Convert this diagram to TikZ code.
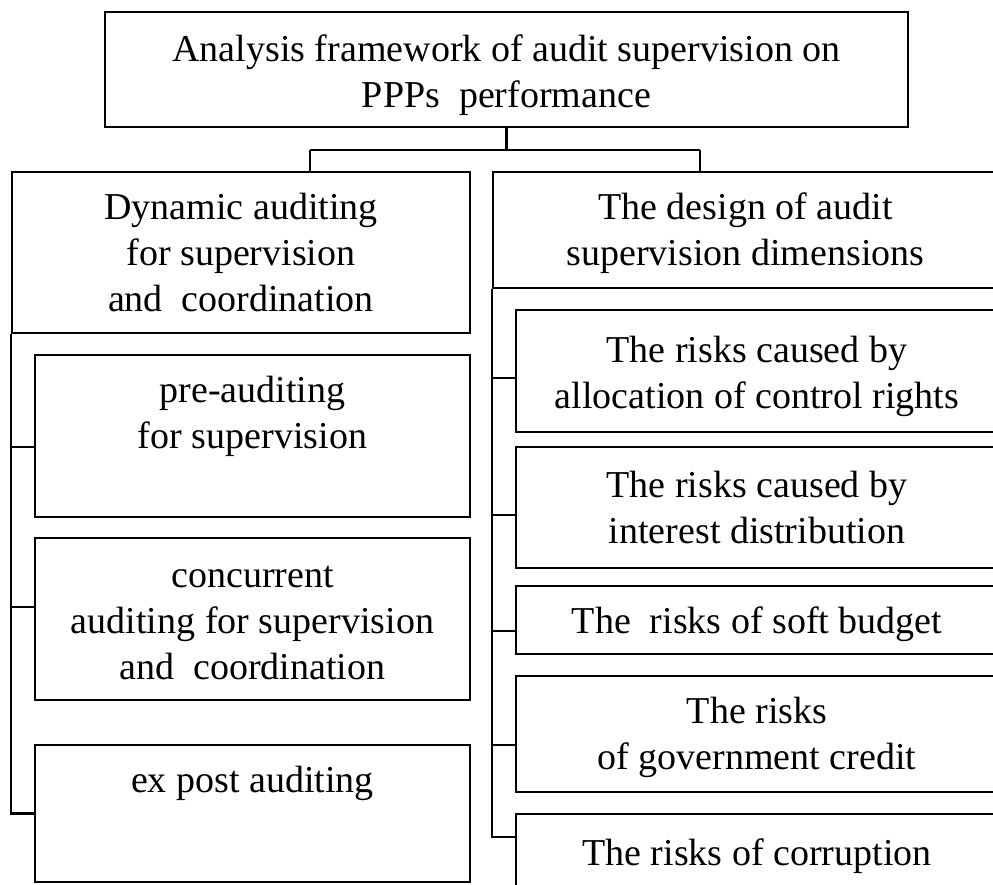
\documentclass[tikz,border=0pt]{standalone}
\usepackage{fontspec}
\setmainfont{Liberation Serif}
\newcommand{\mlines}[1]{\begin{tabular}[t]{@{}c@{}}#1\end{tabular}}
\begin{document}
\begin{tikzpicture}[x=1pt,y=-1pt,
  box/.style={draw=black, line width=2.4pt, rectangle, inner sep=0pt, fill=none},
  txt/.style={anchor=base, inner sep=0pt, font=\fontsize{38}{46}\selectfont},
  conn/.style={draw=black, line width=2.4pt}]
\useasboundingbox (0,0) rectangle (993,885);
\fill[white] (0,0) rectangle (993,885);
% boxes
\node[box, minimum width=803pt, minimum height=115pt] (top) at (506.5,69.5) {};
\node[box, minimum width=458pt, minimum height=161pt] (lh) at (241,252.5) {};
\node[box, minimum width=505pt, minimum height=116pt] (rh) at (745.5,230) {};
\node[box, minimum width=435pt, minimum height=162pt] (pre) at (252.5,436) {};
\node[box, minimum width=435pt, minimum height=162pt] (conc) at (252.5,619) {};
\node[box, minimum width=435pt, minimum height=137pt] (expost) at (252.5,813.5) {};
\node[box, minimum width=482pt, minimum height=122pt] (r1) at (757,371) {};
\node[box, minimum width=482pt, minimum height=121pt] (r2) at (757,507.5) {};
\node[box, minimum width=482pt, minimum height=68pt] (r3) at (757,620) {};
\node[box, minimum width=482pt, minimum height=116pt] (r4) at (757,734) {};
\node[box, minimum width=482pt, minimum height=116pt] (r5) at (757,872) {};
% texts
\node[txt] (ttop) at (506.5,62) {\mlines{Analysis framework of audit supervision on\\PPPs\ \ performance}};
\node[txt] (tlh) at (241,220) {\mlines{Dynamic auditing\\for supervision\\and\ \ coordination}};
\node[txt] (trh) at (745.5,220) {\mlines{The design of audit\\supervision dimensions}};
\node[txt] (tpre) at (252.5,402) {\mlines{pre-auditing\\for supervision}};
\node[txt] (tconc) at (252.5,587) {\mlines{concurrent\\auditing for supervision\\and\ \ coordination}};
\node[txt] (texp) at (252.5,792) {\mlines{ex post auditing}};
\node[txt] (tr1) at (757,362) {\mlines{The risks caused by\\allocation of control rights}};
\node[txt] (tr2) at (757,497) {\mlines{The risks caused by\\interest distribution}};
\node[txt] (tr3) at (757,633) {\mlines{The\ \ risks of soft budget}};
\node[txt] (tr4) at (757,723) {\mlines{The risks\\of government credit}};
\node[txt] (tr5) at (757,865) {\mlines{The risks of corruption}};
% connectors
\coordinate (j) at (top.south |- 0,150);
\draw[conn] (top.south) -- (j);
\draw[conn] (j -| 310,0) -- (j -| 700,0);
\draw[conn] (j -| 310,0) -- (lh.north -| 310,0);
\draw[conn] (j -| 700,0) -- (rh.north -| 700,0);
% left spine
\draw[conn] (lh.south west) |- (expost.west);
\draw[conn] (lh.south west |- 0,447) -- (pre.west |- 0,447);
\draw[conn] (lh.south west |- 0,607) -- (conc.west |- 0,607);
% right spine
\draw[conn] (rh.south west) -- (rh.south west |- 0,837) -- (r5.west |- 0,837);
\draw[conn] (rh.south west |- 0,378) -- (r1.west |- 0,378);
\draw[conn] (rh.south west |- 0,515) -- (r2.west |- 0,515);
\draw[conn] (rh.south west |- 0,631) -- (r3.west |- 0,631);
\draw[conn] (rh.south west |- 0,745) -- (r4.west |- 0,745);
\end{tikzpicture}
\end{document}
